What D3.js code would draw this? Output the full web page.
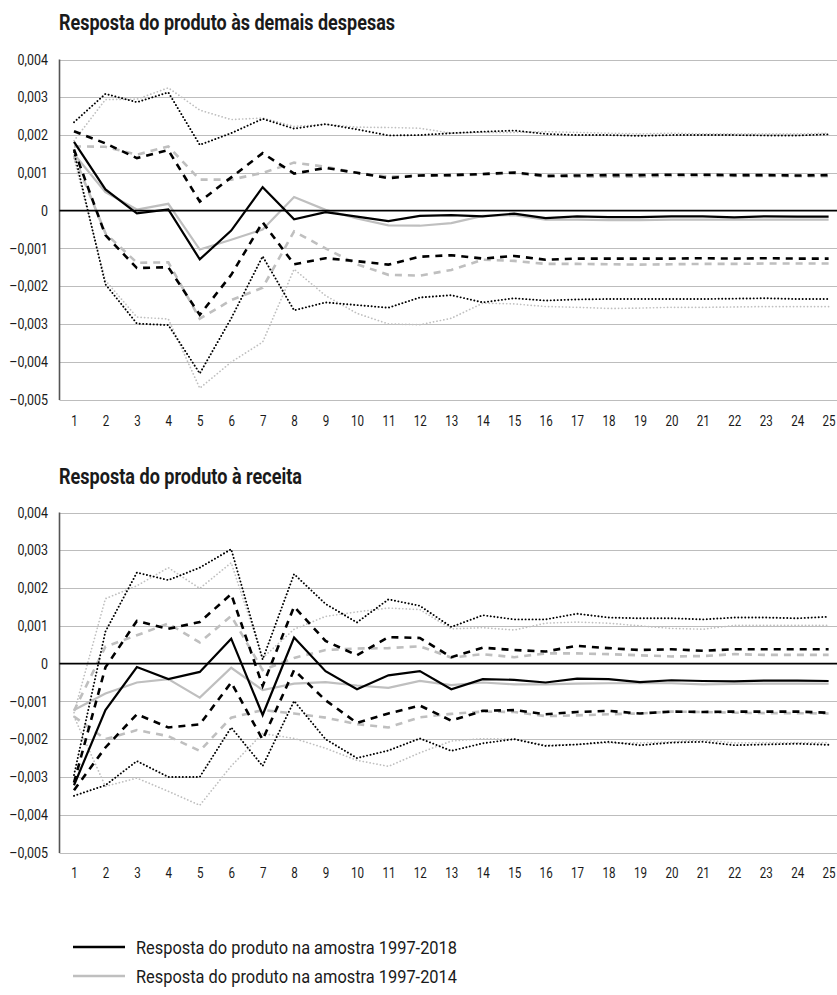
<!DOCTYPE html>
<html>
<head>
<meta charset="utf-8">
<script src="https://cdn.jsdelivr.net/npm/d3@7/dist/d3.min.js"></script>
<style>
  html, body { margin: 0; padding: 0; background: #fff; }
  svg { display: block; }
</style>
</head>
<body>
<svg id="chart" width="837" height="995"></svg>
<script>
// ---------- DATA (values in thousandths, i.e. 1 = 0,001) ----------
const periods = d3.range(1, 26);
const yTickValues = [4, 3, 2, 1, 0, -1, -2, -3, -4, -5];
const yTickLabels = ["0,004", "0,003", "0,002", "0,001", "0", "\u20130,001", "\u20130,002", "\u20130,003", "\u20130,004", "\u20130,005"];
const titles = ["Resposta do produto às demais despesas", "Resposta do produto à receita"];
const legendLabels = ["Resposta do produto na amostra 1997-2018", "Resposta do produto na amostra 1997-2014"];

// Panel 1: resposta às demais despesas
const despBlackMid    = [1.82, 0.56, -0.07, 0.03, -1.29, -0.53, 0.62, -0.23, -0.04, -0.16, -0.28, -0.14, -0.12, -0.15, -0.08, -0.20, -0.15, -0.17, -0.17, -0.15, -0.15, -0.18, -0.15, -0.16, -0.16];
const despGrayMid     = [1.50, 0.49, 0.03, 0.18, -1.03, -0.77, -0.50, 0.36, 0.02, -0.21, -0.39, -0.40, -0.33, -0.14, -0.12, -0.24, -0.24, -0.25, -0.25, -0.24, -0.24, -0.24, -0.24, -0.24, -0.24];
const despBlackDashHi = [2.10, 1.78, 1.39, 1.60, 0.24, 0.88, 1.52, 0.98, 1.13, 1.00, 0.86, 0.93, 0.94, 0.97, 1.01, 0.92, 0.93, 0.94, 0.94, 0.95, 0.95, 0.94, 0.94, 0.93, 0.94];
const despGrayDashHi  = [1.70, 1.69, 1.48, 1.70, 0.82, 0.82, 1.00, 1.27, 1.16, 1.00, 0.90, 0.93, 0.92, 0.96, 0.99, 0.90, 0.90, 0.90, 0.90, 0.92, 0.92, 0.92, 0.92, 0.91, 0.91];
const despBlackDashLo = [1.62, -0.65, -1.52, -1.50, -2.76, -1.70, -0.31, -1.42, -1.26, -1.34, -1.43, -1.22, -1.18, -1.27, -1.20, -1.30, -1.27, -1.27, -1.27, -1.27, -1.26, -1.27, -1.26, -1.27, -1.27];
const despGrayDashLo  = [1.45, -0.60, -1.38, -1.37, -2.86, -2.37, -2.04, -0.55, -1.00, -1.42, -1.70, -1.72, -1.57, -1.30, -1.33, -1.41, -1.41, -1.42, -1.43, -1.42, -1.41, -1.41, -1.40, -1.40, -1.40];
const despBlackDotHi  = [2.34, 3.09, 2.87, 3.13, 1.74, 2.05, 2.43, 2.17, 2.29, 2.15, 1.99, 2.00, 2.05, 2.09, 2.12, 2.03, 2.00, 2.00, 1.98, 2.00, 2.00, 2.00, 1.99, 1.99, 2.02];
const despGrayDotHi   = [1.85, 2.94, 2.95, 3.25, 2.66, 2.41, 2.45, 2.23, 2.28, 2.21, 2.20, 2.18, 2.05, 2.07, 2.07, 2.09, 2.07, 2.05, 2.03, 2.05, 2.03, 2.03, 2.03, 2.03, 2.05];
const despBlackDotLo  = [1.55, -1.95, -2.99, -3.03, -4.31, -2.85, -1.21, -2.64, -2.43, -2.50, -2.57, -2.30, -2.24, -2.43, -2.32, -2.38, -2.35, -2.34, -2.34, -2.34, -2.34, -2.33, -2.32, -2.34, -2.34];
const despGrayDotLo   = [1.38, -1.85, -2.82, -2.87, -4.70, -4.01, -3.48, -1.55, -2.25, -2.72, -3.00, -3.02, -2.85, -2.45, -2.47, -2.54, -2.56, -2.59, -2.58, -2.56, -2.56, -2.55, -2.54, -2.54, -2.54];

// Panel 2: resposta à receita
const recBlackMid    = [-3.22, -1.23, -0.09, -0.41, -0.22, 0.66, -1.36, 0.69, -0.20, -0.68, -0.31, -0.20, -0.68, -0.41, -0.43, -0.50, -0.40, -0.41, -0.49, -0.44, -0.46, -0.47, -0.45, -0.45, -0.46];
const recGrayMid     = [-1.23, -0.79, -0.50, -0.41, -0.90, -0.11, -0.70, -0.53, -0.49, -0.58, -0.64, -0.46, -0.57, -0.50, -0.55, -0.55, -0.53, -0.52, -0.52, -0.52, -0.55, -0.54, -0.53, -0.53, -0.53];
const recBlackDashHi = [-3.15, -0.10, 1.13, 0.92, 1.10, 1.84, -0.59, 1.51, 0.60, 0.22, 0.70, 0.68, 0.17, 0.42, 0.36, 0.32, 0.47, 0.41, 0.36, 0.38, 0.34, 0.38, 0.38, 0.38, 0.38];
const recGrayDashHi  = [-1.25, 0.45, 0.75, 1.06, 0.56, 1.26, -0.17, 0.15, 0.36, 0.40, 0.41, 0.46, 0.16, 0.25, 0.17, 0.27, 0.27, 0.25, 0.22, 0.19, 0.20, 0.25, 0.23, 0.23, 0.23];
const recBlackDashLo = [-3.35, -2.22, -1.34, -1.69, -1.61, -0.50, -2.01, -0.17, -0.97, -1.57, -1.32, -1.11, -1.51, -1.25, -1.23, -1.34, -1.28, -1.25, -1.32, -1.27, -1.28, -1.27, -1.27, -1.27, -1.30];
const recGrayDashLo  = [-1.40, -2.00, -1.76, -1.92, -2.31, -1.43, -1.23, -1.32, -1.43, -1.60, -1.69, -1.42, -1.33, -1.27, -1.28, -1.39, -1.37, -1.34, -1.32, -1.27, -1.28, -1.30, -1.31, -1.31, -1.32];
const recBlackDotHi  = [-2.95, 0.85, 2.41, 2.21, 2.54, 3.03, 0.11, 2.37, 1.58, 1.09, 1.70, 1.53, 0.97, 1.28, 1.17, 1.17, 1.32, 1.22, 1.20, 1.20, 1.17, 1.22, 1.22, 1.20, 1.24];
const recGrayDotHi   = [-1.30, 1.72, 2.06, 2.54, 1.99, 2.67, 0.15, 0.91, 1.25, 1.37, 1.47, 1.43, 0.92, 0.95, 0.89, 1.07, 1.10, 1.07, 1.00, 0.93, 0.91, 1.01, 1.01, 1.01, 1.01];
const recBlackDotLo  = [-3.50, -3.22, -2.58, -3.00, -3.00, -1.69, -2.71, -0.99, -2.00, -2.50, -2.30, -1.98, -2.31, -2.11, -2.00, -2.18, -2.14, -2.07, -2.16, -2.09, -2.07, -2.16, -2.14, -2.12, -2.15];
const recGrayDotLo   = [-1.40, -3.25, -3.03, -3.38, -3.75, -2.71, -1.85, -1.98, -2.24, -2.56, -2.72, -2.36, -2.05, -1.99, -2.00, -2.16, -2.14, -2.10, -2.10, -2.07, -2.02, -2.10, -2.09, -2.09, -2.09];

// ---------- STYLES ----------
const BLACK = "#000000", GRAY = "#bfbfbf";
const styleFor = {
  mid:  { width: 2.2, dash: null },
  dash: { width: 2.6, dash: "7,6" },
  dot:  { width: 1.9, dash: "0.1,3.4" }
};

const panels = [
  { title: titles[0], titleY: 30, titleLen: 336, top: 59.5, bottom: 399.5, labelY: 426,
    series: [
      [despGrayDotHi, GRAY, "dot"], [despGrayDotLo, GRAY, "dot"],
      [despGrayDashHi, GRAY, "dash"], [despGrayDashLo, GRAY, "dash"],
      [despGrayMid, GRAY, "mid"],
      [despBlackDotHi, BLACK, "dot"], [despBlackDotLo, BLACK, "dot"],
      [despBlackDashHi, BLACK, "dash"], [despBlackDashLo, BLACK, "dash"],
      [despBlackMid, BLACK, "mid"]
    ] },
  { title: titles[1], titleY: 484, titleLen: 243, top: 512.5, bottom: 852.5, labelY: 878,
    series: [
      [recGrayDotHi, GRAY, "dot"], [recGrayDotLo, GRAY, "dot"],
      [recGrayDashHi, GRAY, "dash"], [recGrayDashLo, GRAY, "dash"],
      [recGrayMid, GRAY, "mid"],
      [recBlackDotHi, BLACK, "dot"], [recBlackDotLo, BLACK, "dot"],
      [recBlackDashHi, BLACK, "dash"], [recBlackDashLo, BLACK, "dash"],
      [recBlackMid, BLACK, "mid"]
    ] }
];

const svg = d3.select("#chart");
const plotLeft = 59.5, plotRight = 845;
const x = d3.scalePoint().domain(periods).range([74, 828.6]);

panels.forEach(p => {
  const g = svg.append("g");
  const y = d3.scaleLinear().domain([-5, 4]).range([p.bottom, p.top]);

  // title
  g.append("text")
    .attr("x", 59).attr("y", p.titleY)
    .attr("font-family", "Roboto, 'Liberation Sans', sans-serif")
    .attr("font-weight", "bold").attr("font-size", 22.5)
    .attr("fill", "#1a1a1a")
    .attr("textLength", p.titleLen).attr("lengthAdjust", "spacingAndGlyphs")
    .text(p.title);

  // gridlines
  g.append("g").selectAll("line")
    .data(yTickValues.filter(v => v !== 0))
    .join("line")
    .attr("x1", plotLeft).attr("x2", plotRight)
    .attr("y1", d => Math.round(y(d)) + 0.5).attr("y2", d => Math.round(y(d)) + 0.5)
    .attr("stroke", "#bdbdbd").attr("stroke-width", 1.2);

  // y axis with labels
  const yAxis = d3.axisLeft(y).tickValues(yTickValues).tickSize(0).tickPadding(0)
    .tickFormat((d, i) => yTickLabels[i]);
  const ya = g.append("g").attr("transform", `translate(48,0)`).call(yAxis);
  ya.select(".domain").remove();
  ya.selectAll("text")
    .attr("font-family", "Roboto, 'Liberation Sans', sans-serif")
    .attr("font-size", 14.5).attr("fill", "#1a1a1a")
    .attr("transform", "scale(0.86,1)");

  // vertical axis line
  g.append("line")
    .attr("x1", plotLeft).attr("x2", plotLeft)
    .attr("y1", p.top).attr("y2", p.bottom + 0.5)
    .attr("stroke", "#555").attr("stroke-width", 1.6);

  // x axis labels
  const xAxis = d3.axisBottom(x).tickSize(0).tickPadding(0);
  const xa = g.append("g").attr("transform", `translate(0,${p.labelY})`).call(xAxis);
  xa.select(".domain").remove();
  xa.selectAll("text")
    .attr("font-family", "Roboto, 'Liberation Sans', sans-serif")
    .attr("font-size", 14.5).attr("fill", "#1a1a1a")
    .attr("transform", "scale(0.8,1)")
    .attr("dy", null).attr("y", 0).attr("x", 0);

  // lines
  const line = d3.line().x((d, i) => x(periods[i])).y(d => y(d));
  p.series.forEach(([vals, color, kind]) => {
    const st = styleFor[kind];
    g.append("path")
      .datum(vals)
      .attr("d", line)
      .attr("fill", "none")
      .attr("stroke", color)
      .attr("stroke-width", kind === "dot" && color === GRAY ? 1.7 : st.width)
      .attr("stroke-dasharray", st.dash)
      .attr("stroke-linejoin", "miter")
      .attr("stroke-linecap", kind === "dot" ? "round" : "butt");
  });

  // zero line on top
  g.append("line")
    .attr("x1", plotLeft).attr("x2", plotRight)
    .attr("y1", y(0)).attr("y2", y(0))
    .attr("stroke", "#000").attr("stroke-width", 1.6);
});

// legend
const legendColors = [BLACK, GRAY];
const legendYs = [947, 976];
const lg = svg.append("g");
legendLabels.forEach((lab, i) => {
  lg.append("line")
    .attr("x1", 73).attr("x2", 125)
    .attr("y1", legendYs[i]).attr("y2", legendYs[i])
    .attr("stroke", legendColors[i]).attr("stroke-width", 2.6);
  lg.append("text")
    .attr("x", 136).attr("y", legendYs[i] + 6.5)
    .attr("font-family", "Roboto, 'Liberation Sans', sans-serif")
    .attr("font-size", 18).attr("fill", "#1a1a1a")
    .attr("textLength", 321).attr("lengthAdjust", "spacingAndGlyphs")
    .text(lab);
});
</script>
</body>
</html>
